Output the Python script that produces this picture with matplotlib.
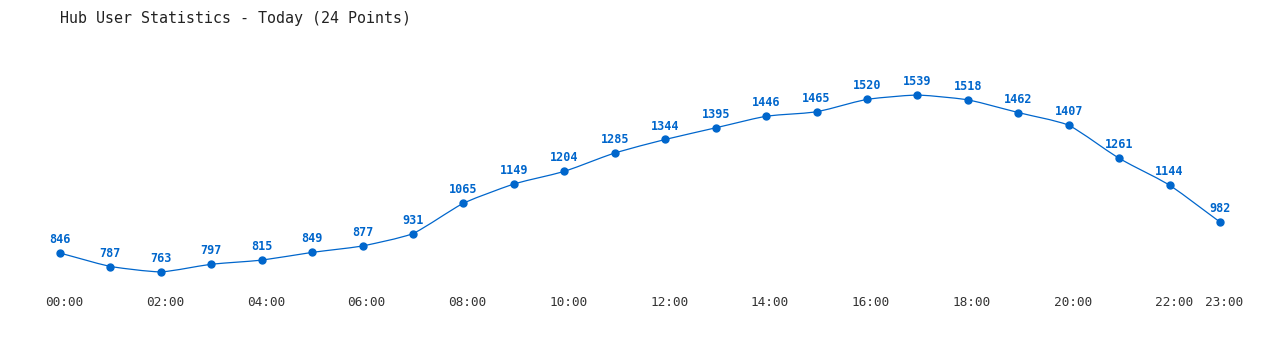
import matplotlib
matplotlib.use("Agg")
import matplotlib.pyplot as plt
import matplotlib.transforms as mtransforms
from matplotlib.path import Path
from matplotlib.patches import PathPatch

hours = list(range(24))
users = [846, 787, 763, 797, 815, 849, 877, 931, 1065, 1149, 1204, 1285,
         1344, 1395, 1446, 1465, 1520, 1539, 1518, 1462, 1407, 1261, 1144, 982]
tick_hours = [0, 2, 4, 6, 8, 10, 12, 14, 16, 18, 20, 22, 23]
tick_labels = ["00:00", "02:00", "04:00", "06:00", "08:00", "10:00", "12:00",
               "14:00", "16:00", "18:00", "20:00", "22:00", "23:00"]

BLUE = "#0066cc"
MONO = ["DejaVu Sans Mono"]


def smooth_path(xs, ys, k=0.45):
    # cardinal spline with low tension -> almost straight segments
    n = len(xs)
    m = []
    for i in range(n):
        a = max(i - 1, 0)
        b = min(i + 1, n - 1)
        m.append(k * (ys[b] - ys[a]) / (xs[b] - xs[a]))
    verts = [(xs[0], ys[0])]
    codes = [Path.MOVETO]
    for i in range(n - 1):
        h = (xs[i + 1] - xs[i]) / 3
        # blend tangent with the segment slope so it stays gentle
        s = (ys[i + 1] - ys[i]) / (xs[i + 1] - xs[i])
        m0 = m[i] + (1 - k) * s
        m1 = m[i + 1] + (1 - k) * s
        verts += [(xs[i] + h, ys[i] + m0 * h),
                  (xs[i + 1] - h, ys[i + 1] - m1 * h),
                  (xs[i + 1], ys[i + 1])]
        codes += [Path.CURVE4] * 3
    return Path(verts, codes)


fig = plt.figure(figsize=(12.8, 3.5), dpi=100)
ax = fig.add_axes([60 / 1280, 1 - 285 / 350, 1160 / 1280, 245 / 350])
ax.set_xlim(0, 23)
ax.set_ylim(706, 1780)

ax.add_patch(PathPatch(smooth_path(hours, users), facecolor="none",
                       edgecolor=BLUE, linewidth=0.9, clip_on=False))
ax.plot(hours, users, "o", color=BLUE, markersize=5, linestyle="none",
        clip_on=False)

for h, u in zip(hours, users):
    ax.annotate(str(u), (h, u), xytext=(0, 5), textcoords="offset points",
                ha="center", va="bottom", color=BLUE, fontsize=8.5,
                fontweight="bold", family=MONO, annotation_clip=False)

ax.set_xticks(tick_hours)
ax.set_xticklabels(tick_labels, family=MONO, fontsize=9.2, color="#333333")
ax.tick_params(axis="x", length=0, pad=8)
# labels sit a few pixels right of the points in the original
shift = mtransforms.ScaledTranslation(4 / 100, 0, fig.dpi_scale_trans)
for lbl in ax.get_xticklabels():
    lbl.set_transform(lbl.get_transform() + shift)
ax.set_yticks([])
for s in ax.spines.values():
    s.set_visible(False)

fig.text(60 / 1280, 1 - 18 / 350, "Hub User Statistics - Today (24 Points)",
         family=MONO, fontsize=10.8, color="#222222", va="center", ha="left")

fig.savefig("out.png", dpi=100, facecolor="white")
